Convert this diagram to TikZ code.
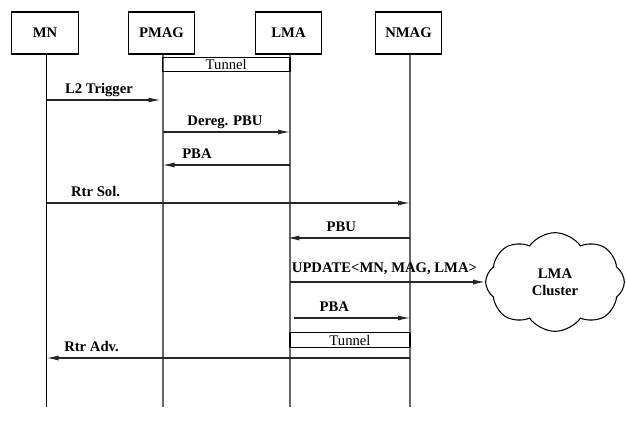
\documentclass[tikz,border=0pt]{standalone}
\usepackage{fontspec}
\setmainfont{Liberation Serif}
\usetikzlibrary{arrows.meta,shapes.symbols}
\begin{document}
\begin{tikzpicture}[x=0.75pt,y=-0.75pt,
	every node/.style={font=\fontsize{11}{13}\selectfont\bfseries},
	entity/.style={draw,line width=0.8pt,minimum width=50pt,minimum height=31.5pt,inner sep=0pt},
	life/.style={draw=black!60,line width=1.1pt},
	msg/.style={-{Latex[length=9pt,width=3.8pt]},line width=0.9pt,draw=black!85},
	lbl/.style={anchor=base,yshift=5pt,inner sep=0pt},
	tunnelbox/.style={draw,line width=0.9pt,inner sep=0pt,minimum height=11pt,
		text depth=-1pt,font=\fontsize{11}{13}\selectfont\mdseries}]
	\useasboundingbox (0,0) rectangle (626,433);
	
	%entities
	\node[entity] (mn) at (45,33){MN};
	\node[entity] (pmag) at (161.5,33){PMAG};
	\node[entity] (lma) at (288.5,33){LMA};
	\node[entity] (nmag) at (408.5,33){NMAG};
	\coordinate (bot) at (0,407);
	
	%life lines
	\draw[line width=1.1pt] ([xshift=1.2pt]mn.south) -- ([xshift=1.2pt]mn.south |- bot);
	\foreach \e in {pmag, lma, nmag}{
		\draw[life] ([xshift=1.2pt]\e.south) -- ([xshift=1.2pt]\e.south |- bot);
	}
	\coordinate (mnl) at (46.5,0);
	\coordinate (pmagl) at (162.5,0);
	\coordinate (lmal) at (290,0);
	\coordinate (nmagl) at (410,0);
	
	%cloud
	\node[cloud,draw,line width=0.8pt,cloud puffs=8,cloud puff arc=110,aspect=1.45,inner sep=0pt,
		minimum width=104pt,minimum height=74pt,align=center] (clus) at (555,282){LMA\\Cluster};
	
	%tunnels
	\node[tunnelbox,minimum width=95.6pt] (tun1) at (226.25,64.5){Tunnel};
	\node[tunnelbox,minimum width=90pt] (tun2) at (350,340){Tunnel};
	
	%messages
	\coordinate (m1) at (0,100);
	\coordinate (m2) at (0,132);
	\coordinate (m3) at (0,165);
	\coordinate (m4) at (0,203);
	\coordinate (m5) at (0,238);
	\coordinate (m7) at (0,318);
	\coordinate (m8) at (0,358);
	\draw[msg] (mnl |- m1) -- ([xshift=-1.5pt]pmagl |- m1) node[lbl,pos=0.46]{L2 Trigger};
	\draw[msg] (pmagl |- m2) -- (lmal |- m2) node[lbl,pos=0.49]{Dereg. PBU};
	\draw[msg] (lmal |- m3) -- (pmagl |- m3) node[lbl,pos=0.73]{PBA};
	\draw[msg] (mnl |- m4) -- (nmagl |- m4) node[lbl,pos=0.135]{Rtr Sol.};
	\draw[msg] (nmagl |- m5) -- ([xshift=-2pt]lmal |- m5) node[lbl,pos=0.56]{PBU};
	\draw[msg] (lmal |- clus.west) -- (clus.west)
		node[lbl,anchor=base west,yshift=2.2pt,pos=0,xshift=1pt]{UPDATE<MN, MAG, LMA>};
	\draw[msg,shorten <=3pt] (lmal |- m7) -- (nmagl |- m7) node[lbl,pos=0.37]{PBA};
	\draw[msg] (nmagl |- m8) -- (mnl |- m8) node[lbl,pos=0.876]{Rtr Adv.};
\end{tikzpicture}
\end{document}
